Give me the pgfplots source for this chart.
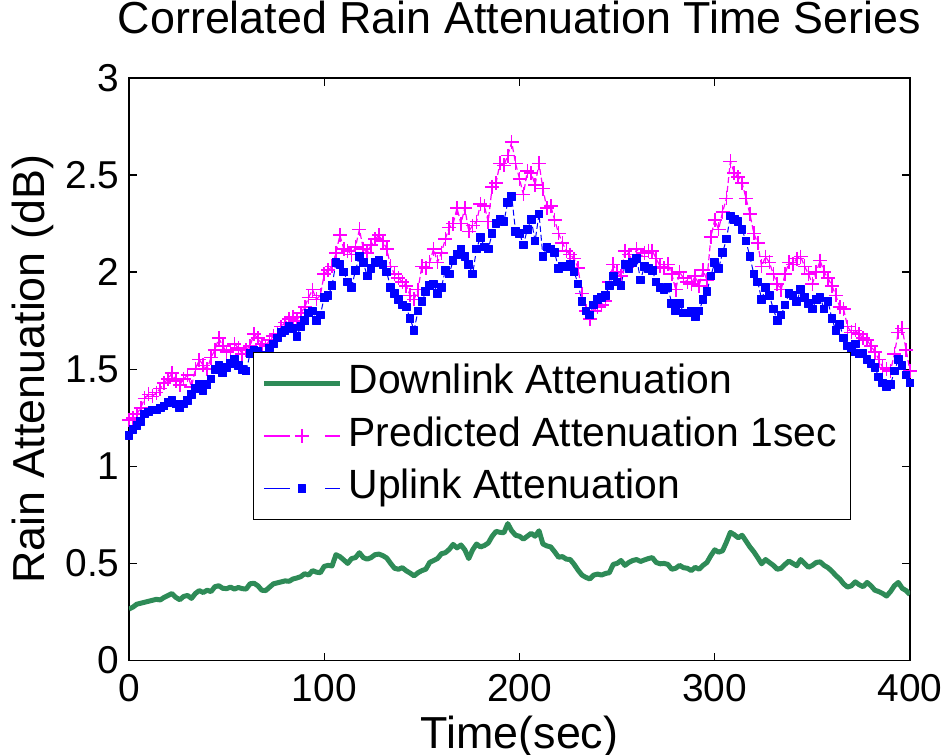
\documentclass[border=0pt]{standalone}
\usepackage{fontspec}
\setmainfont{Liberation Sans}
\usepackage{pgfplots}
\usepackage{pgfplotstable}
\pgfplotsset{compat=1.18}
\definecolor{dlgreen}{RGB}{46,139,87}
\definecolor{predmag}{RGB}{255,0,255}
\definecolor{upblue}{RGB}{0,0,255}
\pgfplotsset{
  lineleg/.style={legend image code/.code={\draw[##1] (0bp,0bp) -- (38bp,0bp);}},
  markleg/.style={legend image code/.code={
    \draw[##1, dash pattern=on 13bp off 17.5bp] (0bp,0bp) -- (38bp,0bp);
    \draw[##1] plot coordinates {(19bp,0bp)};}},
}

% t: time (s), D: downlink, P: predicted 1 s, U: uplink (dB)
\pgfplotstableread{
t D P U
0 0.265 1.24 1.16
2 0.275 1.25 1.19
4 0.290 1.27 1.21
6 0.295 1.30 1.23
8 0.300 1.35 1.27
10 0.305 1.37 1.28
12 0.310 1.36 1.29
14 0.315 1.38 1.29
16 0.312 1.40 1.30
18 0.325 1.43 1.31
20 0.335 1.45 1.33
22 0.345 1.48 1.34
24 0.325 1.44 1.32
26 0.313 1.42 1.30
28 0.330 1.45 1.32
30 0.335 1.47 1.34
32 0.320 1.41 1.37
34 0.345 1.50 1.40
36 0.360 1.55 1.42
38 0.350 1.52 1.39
40 0.362 1.50 1.42
42 0.355 1.56 1.45
44 0.380 1.60 1.50
46 0.385 1.66 1.52
48 0.372 1.62 1.48
50 0.370 1.59 1.51
52 0.378 1.60 1.53
54 0.368 1.63 1.55
56 0.376 1.61 1.52
58 0.370 1.58 1.50
60 0.368 1.60 1.49
62 0.395 1.62 1.58
64 0.398 1.68 1.60
66 0.385 1.66 1.59
68 0.362 1.63 1.56
70 0.360 1.62 1.57
72 0.378 1.65 1.61
74 0.395 1.67 1.63
76 0.400 1.68 1.66
78 0.405 1.72 1.69
80 0.410 1.74 1.70
82 0.408 1.76 1.72
84 0.420 1.77 1.71
86 0.425 1.75 1.67
88 0.432 1.79 1.72
90 0.447 1.82 1.75
92 0.440 1.87 1.79
94 0.463 1.91 1.80
96 0.455 1.86 1.75
98 0.452 1.88 1.78
100 0.485 1.99 1.87
102 0.490 2.01 1.88
104 0.487 2.03 1.93
106 0.545 2.10 2.05
108 0.535 2.19 2.04
110 0.518 2.12 2.00
112 0.500 2.11 1.95
114 0.525 2.09 1.92
116 0.530 2.13 2.01
118 0.555 2.22 2.08
120 0.530 2.12 2.05
122 0.522 2.10 1.98
124 0.530 2.14 2.02
126 0.545 2.17 2.05
128 0.548 2.19 2.06
130 0.540 2.16 2.04
132 0.528 2.12 2.00
134 0.500 2.03 1.92
136 0.475 1.99 1.89
138 0.470 1.97 1.86
140 0.478 1.95 1.83
142 0.462 1.93 1.82
144 0.450 1.88 1.76
146 0.436 1.86 1.70
148 0.452 1.91 1.80
150 0.463 2.03 1.85
152 0.470 2.02 1.90
154 0.505 2.05 1.93
156 0.515 2.12 1.94
158 0.525 2.05 1.89
160 0.550 2.10 1.92
162 0.555 2.17 2.01
164 0.572 2.23 1.99
166 0.598 2.25 2.06
168 0.580 2.33 2.09
170 0.595 2.25 2.12
172 0.570 2.33 2.08
174 0.525 2.21 2.04
176 0.570 2.24 1.99
178 0.600 2.26 2.12
180 0.585 2.35 2.18
182 0.592 2.34 2.13
184 0.605 2.26 2.12
186 0.640 2.44 2.20
188 0.665 2.46 2.25
190 0.660 2.56 2.27
192 0.658 2.55 2.26
194 0.705 2.60 2.36
196 0.668 2.67 2.39
198 0.645 2.56 2.21
200 0.640 2.48 2.20
202 0.625 2.40 2.14
204 0.640 2.52 2.22
206 0.655 2.51 2.27
208 0.640 2.45 2.16
210 0.668 2.56 2.30
212 0.600 2.43 2.08
214 0.590 2.33 2.13
216 0.585 2.34 2.12
218 0.560 2.27 2.10
220 0.532 2.20 2.02
222 0.535 2.15 2.03
224 0.522 2.11 2.03
226 0.520 2.09 2.04
228 0.495 2.07 2.00
230 0.465 2.02 1.94
232 0.440 1.89 1.85
234 0.428 1.80 1.80
236 0.420 1.76 1.78
238 0.440 1.80 1.83
240 0.445 1.82 1.86
242 0.440 1.83 1.87
244 0.448 1.85 1.88
246 0.452 1.95 1.93
248 0.495 2.04 1.98
250 0.500 2.00 1.95
252 0.515 1.98 1.93
254 0.490 2.11 2.04
256 0.505 2.09 2.02
258 0.515 2.06 2.05
260 0.520 2.12 2.07
262 0.510 2.08 1.96
264 0.518 2.10 2.03
266 0.525 2.11 2.02
268 0.530 2.11 2.01
270 0.505 2.07 1.95
272 0.498 2.03 1.92
274 0.500 2.02 1.91
276 0.495 2.04 1.92
278 0.470 1.99 1.84
280 0.475 1.91 1.80
282 0.490 2.00 1.84
284 0.478 1.97 1.79
286 0.475 1.95 1.79
288 0.463 1.94 1.80
290 0.480 1.98 1.77
292 0.470 1.93 1.80
294 0.490 2.01 1.86
296 0.505 1.96 1.90
298 0.540 2.18 1.98
300 0.570 2.27 2.05
302 0.558 2.22 2.02
304 0.565 2.31 2.10
306 0.610 2.38 2.17
308 0.660 2.57 2.29
310 0.648 2.51 2.27
312 0.632 2.49 2.26
314 0.645 2.46 2.22
316 0.615 2.38 2.16
318 0.585 2.30 2.08
320 0.560 2.20 1.99
322 0.530 2.15 1.95
324 0.498 2.03 1.86
326 0.520 2.08 1.92
328 0.505 2.05 1.88
330 0.490 1.99 1.81
332 0.470 1.94 1.75
334 0.475 1.91 1.78
336 0.495 1.99 1.83
338 0.512 2.05 1.89
340 0.500 2.04 1.88
342 0.488 2.07 1.85
344 0.520 2.08 1.91
346 0.500 2.03 1.87
348 0.480 1.99 1.84
350 0.490 1.94 1.81
352 0.505 2.00 1.86
354 0.508 2.06 1.87
356 0.490 2.00 1.81
358 0.478 1.97 1.85
360 0.460 1.93 1.76
362 0.438 1.88 1.70
364 0.420 1.82 1.73
366 0.395 1.81 1.66
368 0.378 1.72 1.62
370 0.385 1.69 1.59
372 0.405 1.70 1.63
374 0.390 1.68 1.58
376 0.380 1.66 1.58
378 0.402 1.65 1.55
380 0.385 1.62 1.53
382 0.362 1.59 1.51
384 0.355 1.55 1.46
386 0.345 1.51 1.43
388 0.332 1.50 1.41
390 0.355 1.49 1.42
392 0.385 1.58 1.49
394 0.402 1.69 1.55
396 0.372 1.71 1.52
398 0.360 1.60 1.47
400 0.340 1.49 1.43
}\attn

\begin{document}
\begin{tikzpicture}
\begin{axis}[
  scale only axis,
  width=390.5bp, height=291.25bp,
  xmin=0, xmax=400, ymin=0, ymax=3,
  xtick={0,100,200,300,400},
  ytick={0,0.5,1,1.5,2,2.5,3},
  tick align=inside,
  major tick length=4bp,
  axis line style={line width=0.9bp},
  every tick/.style={black, line width=0.7bp},
  /pgf/number format/assume math mode=true,
  tick label style={font=\fontsize{19.5}{22}\selectfont},
  xticklabel style={anchor=base, yshift=-20.5bp},
  yticklabel style={anchor=east, inner xsep=0pt, xshift=-4.5bp},
  title={Correlated Rain Attenuation Time Series},
  title style={at={(axis description cs:0.5,1.0567)}, anchor=base, font=\fontsize{22.5}{26}\selectfont},
  xlabel={Time(sec)},
  xlabel style={at={(axis description cs:0.5,-0.1512)}, anchor=base, font=\fontsize{22.5}{26}\selectfont},
  ylabel={Rain Attenuation (dB)},
  ylabel style={at={(axis description cs:-0.1076,0.5)}, anchor=base, font=\fontsize{22.5}{26}\selectfont},
  legend cell align=left,
  legend style={at={(axis description cs:0.159,0.529)}, anchor=north west,
    draw=black, fill=white,
    font=\fontsize{20.5}{24}\selectfont,
    inner xsep=4bp, inner ysep=5.5bp, row sep=7bp,
    nodes={inner xsep=3bp, inner ysep=0pt, text height=14.8bp, text depth=4.6bp}},
]
\coordinate (bbA) at (rel axis cs:0,0);
\addplot[draw=dlgreen, line width=2.5bp, line join=round, sharp plot, no marks, lineleg]
  table[x=t, y=D] {\attn};
\addlegendentry{Downlink Attenuation}
\addplot[draw=predmag, line width=0.6bp, line join=round, sharp plot, dash pattern=on 3bp off 1.5bp,
  mark=+, mark size=3.5bp, mark options={solid, draw=predmag, line width=0.8bp}, markleg]
  table[x=t, y=P] {\attn};
\addlegendentry{Predicted Attenuation 1sec}
\addplot[draw=upblue, line width=0.5bp, line join=round, sharp plot, dash pattern=on 3bp off 1.5bp,
  mark=square*, mark size=1.9bp, mark options={solid, draw=upblue, fill=upblue}, markleg]
  table[x=t, y=U] {\attn};
\addlegendentry{Uplink Attenuation}
\end{axis}
\pgfresetboundingbox
\path ([shift={(-64.5bp,-47.25bp)}]bbA) rectangle ([shift={(408.5bp,330.25bp)}]bbA);
\end{tikzpicture}
\end{document}
